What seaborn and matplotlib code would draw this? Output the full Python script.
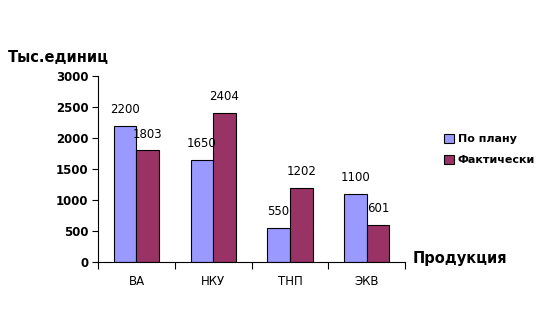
import matplotlib
matplotlib.use("Agg")
import matplotlib.pyplot as plt
import seaborn as sns
import pandas as pd
import numpy as np
from matplotlib.patches import Patch

categories = ["ВА", "НКУ", "ТНП", "ЭКВ"]
plan_values = [2200, 1650, 550, 1100]
fact_values = [1803, 2404, 1202, 601]
series_names = ["По плану", "Фактически"]
y_ticks = [0, 500, 1000, 1500, 2000, 2500, 3000]

df = pd.DataFrame({
    "cat": categories * 2,
    "value": plan_values + fact_values,
    "series": [series_names[0]] * 4 + [series_names[1]] * 4,
})

sns.set_theme(style="white")
plt.rcParams["font.family"] = ["DejaVu Sans"]
plt.rcParams["text.color"] = "black"
plt.rcParams["xtick.color"] = "black"
plt.rcParams["ytick.color"] = "black"
colors = ["#9999FF", "#993366"]

fig = plt.figure(figsize=(5.51, 3.09), dpi=100)
ax = fig.add_axes([0.178, 0.152, 0.557, 0.602])
sns.barplot(data=df, x="cat", y="value", hue="series", palette=colors,
            width=0.59, edgecolor="black", linewidth=0.8, ax=ax, legend=False,
            saturation=1)

for cont in ax.containers:
    ax.bar_label(cont, padding=7, fontsize=8.5, color="black")

ax.set_ylim(0, 3000)
ax.set_xlim(-0.5, 3.5)
ax.set_yticks(y_ticks)
ax.set_yticklabels([str(t) for t in y_ticks], fontsize=8.5, fontweight="bold")
ax.tick_params(axis="y", length=4, width=0.8, color="black", direction="out", left=True, pad=3)
ax.tick_params(axis="x", which="major", length=0, labelsize=8.5, pad=9)
ax.set_xticks(np.arange(-0.5, 4.0, 1.0), minor=True)
ax.tick_params(axis="x", which="minor", length=5, width=0.8, color="black", direction="out", bottom=True)
ax.set_xlabel("")
ax.set_ylabel("")
for s in ["top", "right"]:
    ax.spines[s].set_visible(False)
for s in ["left", "bottom"]:
    ax.spines[s].set_color("black")
    ax.spines[s].set_linewidth(0.8)

fig.text(0.015, 0.815, "Тыс.единиц", fontsize=10.5, fontweight="bold", ha="left", va="center")
fig.text(0.748, 0.163, "Продукция", fontsize=10.5, fontweight="bold", ha="left", va="center")

handles = [Patch(facecolor=c, edgecolor="black", linewidth=0.8) for c in colors]
leg = fig.legend(handles, series_names, loc="upper left", bbox_to_anchor=(0.787, 0.6),
                 frameon=False, handlelength=0.9, handleheight=0.9, handletextpad=0.35,
                 labelspacing=0.95, prop={"size": 8, "weight": "bold"})

fig.savefig("out.png", dpi=100)
